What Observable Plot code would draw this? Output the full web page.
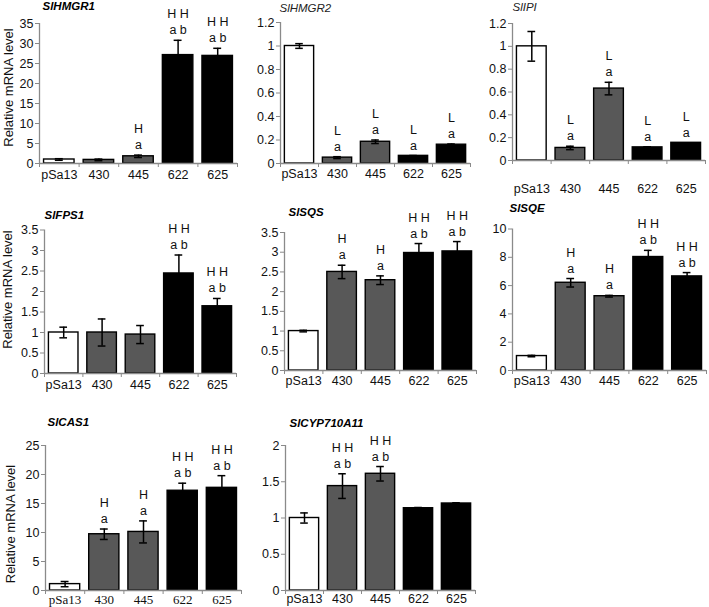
<!DOCTYPE html>
<html><head><meta charset="utf-8">
<script src="https://cdn.jsdelivr.net/npm/d3@7"></script>
<script src="https://cdn.jsdelivr.net/npm/@observablehq/plot@0.6"></script>
<style>
html,body{margin:0;padding:0;background:#fff;}
#chart{position:relative;width:709px;height:607px;overflow:hidden;font-family:"Liberation Sans",Arial,sans-serif;}
#chart svg{position:absolute;max-width:none;}
</style></head><body><div id="chart"></div>
<script>
// ---------- data ----------
const categories = ["pSa13", "430", "445", "622", "625"];
const yLabelText = "Relative mRNA level";

const hmgr1Mean = [1.0, 0.9, 1.8, 27.1, 26.9];
const hmgr1Err  = [0.2, 0.2, 0.3, 3.7, 1.9];
const hmgr1Top  = ["", "", "H", "H H", "H H"];
const hmgr1Bot  = ["", "", "a", "a b", "a b"];
const hmgr1Ticks = [0, 5, 10, 15, 20, 25, 30, 35];

const hmgr2Mean = [1.0, 0.05, 0.185, 0.065, 0.16];
const hmgr2Err  = [0.02, 0.008, 0.015, 0.003, 0.006];
const hmgr2Top  = ["", "L", "L", "L", "L"];
const hmgr2Bot  = ["", "a", "a", "a", "a"];
const hmgr2Ticks = [0, 0.2, 0.4, 0.6, 0.8, 1, 1.2];

const ipiMean = [1.0, 0.11, 0.63, 0.115, 0.155];
const ipiErr  = [0.13, 0.015, 0.055, 0.005, 0.0];
const ipiTop  = ["", "L", "L", "L", "L"];
const ipiBot  = ["", "a", "a", "a", "a"];
const ipiTicks = [0, 0.2, 0.4, 0.6, 0.8, 1, 1.2];

const fps1Mean = [1.0, 1.0, 0.95, 2.44, 1.64];
const fps1Err  = [0.13, 0.33, 0.22, 0.45, 0.19];
const fps1Top  = ["", "", "", "H H", "H H"];
const fps1Bot  = ["", "", "", "a b", "a b"];
const fps1Ticks = [0, 0.5, 1, 1.5, 2, 2.5, 3, 3.5];

const sqsMean = [1.0, 2.5, 2.29, 2.98, 3.02];
const sqsErr  = [0.02, 0.17, 0.11, 0.24, 0.25];
const sqsTop  = ["", "H", "H", "H H", "H H"];
const sqsBot  = ["", "a", "a", "a b", "a b"];
const sqsTicks = [0, 0.5, 1, 1.5, 2, 2.5, 3, 3.5];

const sqeMean = [1.02, 6.2, 5.25, 8.02, 6.65];
const sqeErr  = [0.05, 0.3, 0.06, 0.47, 0.27];
const sqeTop  = ["", "H", "H", "H H", "H H"];
const sqeBot  = ["", "a", "a", "a b", "a b"];
const sqeTicks = [0, 2, 4, 6, 8, 10];

const cas1Mean = [1.1, 9.7, 10.1, 17.2, 17.7];
const cas1Err  = [0.45, 0.9, 1.9, 1.3, 2.1];
const cas1Top  = ["", "H", "H", "H H", "H H"];
const cas1Bot  = ["", "a", "a", "a b", "a b"];
const cas1Ticks = [0, 5, 10, 15, 20, 25];

const cypMean = [1.0, 1.44, 1.61, 1.135, 1.2];
const cypErr  = [0.07, 0.17, 0.1, 0.01, 0.01];
const cypTop  = ["", "H H", "H H", "", ""];
const cypBot  = ["", "a b", "a b", "", ""];
const cypTicks = [0, 0.5, 1, 1.5, 2];

// ---------- layout ----------
const panels = [
  {title: "SlHMGR1", bold: true, mean: hmgr1Mean, err: hmgr1Err, top: hmgr1Top, bot: hmgr1Bot, ticks: hmgr1Ticks,
   x0: 0, y0: 0, w: 245, h: 195, L: 39, R: 237, T: 23, B: 163, tx: 42, ty: 6, pad: 7, ylab: [8, 87]},
  {title: "SlHMGR2", bold: false, mean: hmgr2Mean, err: hmgr2Err, top: hmgr2Top, bot: hmgr2Bot, ticks: hmgr2Ticks,
   x0: 240, y0: 0, w: 235, h: 195, L: 280, R: 470, T: 22, B: 163, tx: 279, ty: 7.5, pad: 5.5},
  {title: "SlIPI", bold: false, mean: ipiMean, err: ipiErr, top: ipiTop, bot: ipiBot, ticks: ipiTicks,
   x0: 475, y0: 0, w: 234, h: 195, L: 512, R: 705, T: 23, B: 160, tx: 512, ty: 7, pad: 23.5},
  {title: "SlFPS1", bold: true, mean: fps1Mean, err: fps1Err, top: fps1Top, bot: fps1Bot, ticks: fps1Ticks,
   x0: 0, y0: 195, w: 245, h: 205, L: 44, R: 236, T: 229.5, B: 373, tx: 44, ty: 215, pad: 6.5, ylab: [7, 289]},
  {title: "SlSQS", bold: true, mean: sqsMean, err: sqsErr, top: sqsTop, bot: sqsBot, ticks: sqsTicks,
   x0: 240, y0: 195, w: 240, h: 205, L: 284, R: 476, T: 232, B: 370, tx: 288, ty: 212, pad: 5.5},
  {title: "SlSQE", bold: true, mean: sqeMean, err: sqeErr, top: sqeTop, bot: sqeBot, ticks: sqeTicks,
   x0: 475, y0: 195, w: 234, h: 205, L: 512, R: 706, T: 228.5, B: 370, tx: 509, ty: 208, pad: 5.5},
  {title: "SlCAS1", bold: true, mean: cas1Mean, err: cas1Err, top: cas1Top, bot: cas1Bot, ticks: cas1Ticks,
   x0: 0, y0: 400, w: 245, h: 207, L: 45, R: 241, T: 445, B: 590, tx: 47, ty: 421.7, pad: 4, serif: true, ylab: [10, 523.5]},
  {title: "SlCYP710A11", bold: true, mean: cypMean, err: cypErr, top: cypTop, bot: cypBot, ticks: cypTicks,
   x0: 240, y0: 400, w: 240, h: 207, L: 285, R: 475, T: 445, B: 590, tx: 289, ty: 423, pad: 3.5}
];

const axisGray = "#8a8a8a";
const inkColor = "#111";
const fs = 12.5;

function drawPanel(p) {
  const rows = categories.map((c, i) => ({c, i, v: p.mean[i], e: p.err[i], t: p.top[i], b: p.bot[i]}));
  const ann = rows.filter(d => d.t || d.b);
  const marks = [
    Plot.rectY(rows, {x1: d => d.i + 0.115, x2: d => d.i + 0.885, y1: 0, y2: "v", fill: "c", stroke: "#000", strokeWidth: 1.4}),
    Plot.ruleX(rows, {x: d => d.i + 0.5, y1: d => d.v - d.e, y2: d => d.v + d.e, stroke: "#000", strokeWidth: 1.5}),
    Plot.ruleY(rows, {y: d => d.v + d.e, x1: d => d.i + 0.4, x2: d => d.i + 0.6, stroke: "#000", strokeWidth: 1.5}),
    Plot.ruleY(rows, {y: d => d.v - d.e, x1: d => d.i + 0.4, x2: d => d.i + 0.6, stroke: "#000", strokeWidth: 1.5}),
    Plot.ruleX([0], {stroke: axisGray, strokeWidth: 1.3}),
    Plot.ruleY([0], {stroke: axisGray, strokeWidth: 1.3}),
    Plot.axisY({ticks: p.ticks, tickSize: 4, tickPadding: 2, tickFormat: d => String(d), stroke: axisGray, fill: inkColor, label: null, fontSize: fs}),
    Plot.axisX({ticks: d3.range(categories.length + 1), tickSize: 4, tickFormat: () => "", stroke: axisGray, label: null}),
    Plot.text(categories, {x: (d, i) => i + 0.5, frameAnchor: "bottom", lineAnchor: "top", dy: p.pad,
      fill: inkColor, fontSize: p.serif ? 13 : fs, fontFamily: p.serif ? "Liberation Serif" : "Liberation Sans"}),
    Plot.text(ann, {x: d => d.i + 0.5, y: d => d.v + d.e, text: "b", dy: -10, fill: inkColor, fontSize: fs}),
    Plot.text(ann, {x: d => d.i + 0.5, y: d => d.v + d.e, text: "t", dy: -26, fill: inkColor, fontSize: fs}),
    Plot.text([p.title], {frameAnchor: "top-left", textAnchor: "start", lineAnchor: "middle",
      dx: p.tx - p.L, dy: p.ty - p.T, fontStyle: "italic", fontWeight: p.bold ? "bold" : "normal",
      fontSize: 11.5, fill: p.bold ? "#000" : "#222"})
  ];
  if (p.ylab) {
    marks.push(Plot.text([yLabelText], {frameAnchor: "left", rotate: -90, textAnchor: "middle", lineAnchor: "middle",
      dx: p.ylab[0] - p.L, dy: p.ylab[1] - (p.T + p.B) / 2, fill: inkColor, fontSize: 13}));
  }
  const svg = Plot.plot({
    width: p.w, height: p.h,
    marginLeft: p.L - p.x0, marginRight: p.x0 + p.w - p.R,
    marginTop: p.T - p.y0, marginBottom: p.y0 + p.h - p.B,
    x: {domain: [0, categories.length], axis: null},
    y: {domain: [0, p.ticks[p.ticks.length - 1]], axis: null, nice: false},
    color: {domain: categories, range: ["#ffffff", "#585858", "#585858", "#000000", "#000000"]},
    style: {background: "transparent", fontFamily: "Liberation Sans", fontSize: fs + "px", overflow: "visible"},
    marks
  });
  svg.style.left = p.x0 + "px";
  svg.style.top = p.y0 + "px";
  document.getElementById("chart").appendChild(svg);
}
panels.forEach(drawPanel);
</script></body></html>
